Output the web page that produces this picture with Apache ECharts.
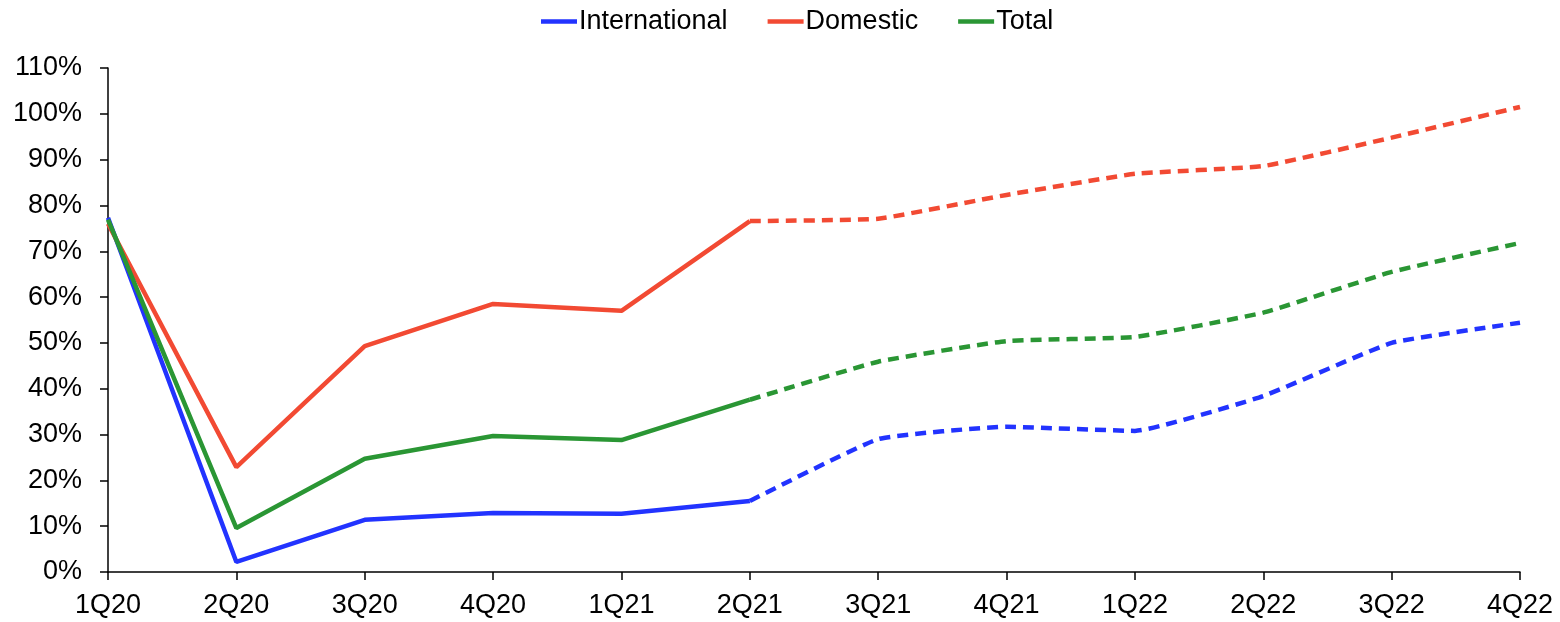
<!DOCTYPE html>
<html><head><meta charset="utf-8">
<script src="https://cdn.jsdelivr.net/npm/echarts@6/dist/echarts.min.js"></script>
<style>html,body{margin:0;padding:0;background:#fff}#c{width:1560px;height:622px}</style>
</head><body><div id="c"></div>
<script>
const categories = ['1Q20','2Q20','3Q20','4Q20','1Q21','2Q21','3Q21','4Q21','1Q22','2Q22','3Q22','4Q22'];
const international = [77.3, 2.2, 11.4, 12.9, 12.7, 15.5, 29.0, 31.7, 30.8, 38.4, 50.0, 54.4];
const domestic = [76.0, 22.9, 49.3, 58.5, 57.0, 76.6, 77.1, 82.3, 86.9, 88.6, 94.8, 101.5];
const total = [76.9, 9.6, 24.7, 29.7, 28.8, 37.6, 45.9, 50.4, 51.3, 56.6, 65.5, 71.8];
const actualLastIndex = 5; // solid up to 2Q21, dashed forecast after

const colors = {International:'#2233ff', Domestic:'#f24a33', Total:'#2a9634'};
function split(arr){
  const solid = arr.map((v,i)=> i<=actualLastIndex ? v : '-');
  const dashed = arr.map((v,i)=> i>=actualLastIndex ? v : '-');
  return [solid, dashed];
}
const seriesDefs = [['International', international], ['Domestic', domestic], ['Total', total]];
const series = [];
seriesDefs.forEach(([name, arr])=>{
  const [s, d] = split(arr);
  series.push({name, type:'line', data:s, symbol:'none', lineStyle:{width:4.5, color:colors[name]}, itemStyle:{color:colors[name]}, z:3});
  series.push({name, type:'line', data:d, symbol:'none', smooth:0.12, lineStyle:{width:4.5, type:[11,7], color:colors[name]}, itemStyle:{color:colors[name]}, z:3});
});
const chart = echarts.init(document.getElementById('c'));
chart.setOption({
  animation:false,
  textStyle:{fontFamily:'Liberation Sans, Arial, sans-serif'},
  legend:{top:3, left:536, data:['International','Domestic','Total'], icon:'rect', itemWidth:36, itemHeight:4.5, itemGap:40,
    textStyle:{fontSize:27, color:'#000', padding:[0,0,0,-3]}},
  grid:{left:108, right:40, top:68, bottom:50},
  xAxis:{type:'category', data:categories, boundaryGap:false,
    axisLine:{lineStyle:{color:'#000', width:1.5}},
    axisTick:{show:true, length:8, alignWithLabel:true, lineStyle:{color:'#000', width:1.5}},
    axisLabel:{fontSize:27, color:'#000', margin:20, interval:0}},
  yAxis:{type:'value', min:0, max:110, interval:10,
    axisLine:{show:true, lineStyle:{color:'#000', width:1.5}},
    axisTick:{show:true, length:8, lineStyle:{color:'#000', width:1.5}},
    splitLine:{show:false},
    axisLabel:{fontSize:27, color:'#000', margin:26, formatter:'{value}%'}},
  series
});
</script></body></html>
